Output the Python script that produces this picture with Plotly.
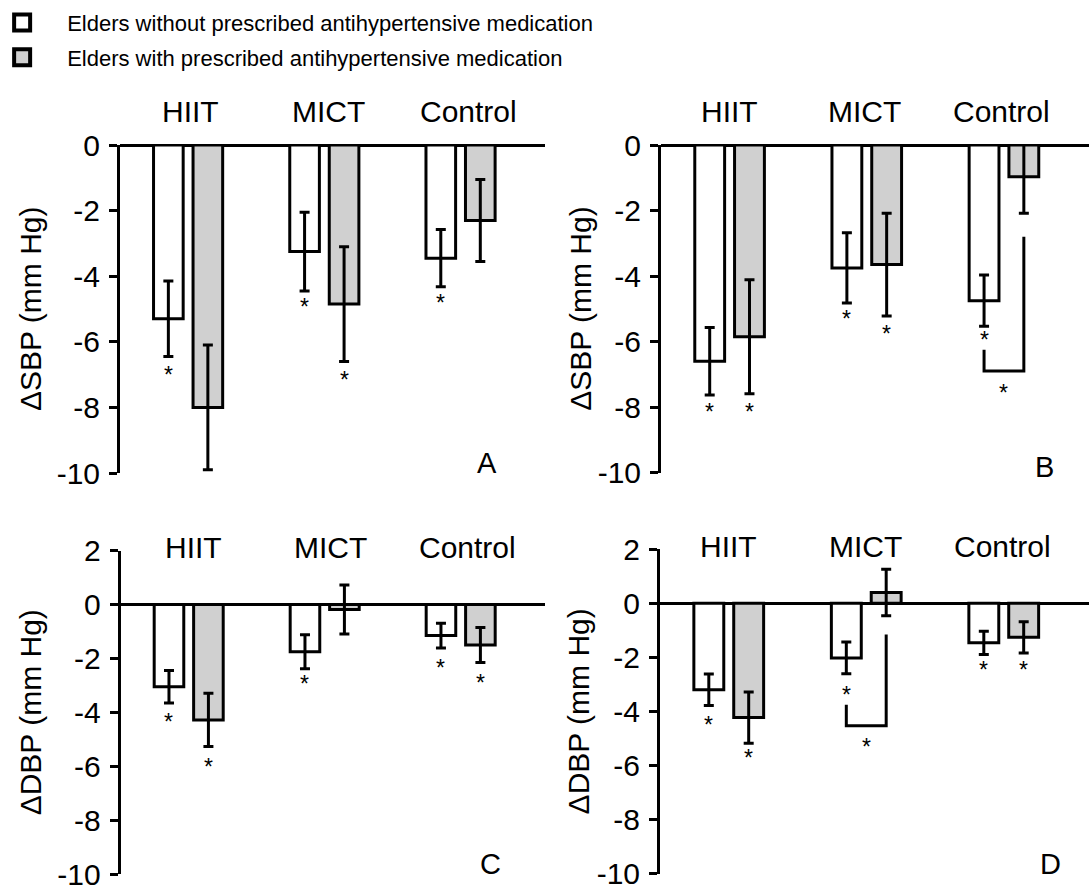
import plotly.graph_objects as go

# ---------------- data ----------------
categories = ["HIIT", "MICT", "Control"]
legend_names = ["Elders without prescribed antihypertensive medication",
                "Elders with prescribed antihypertensive medication"]

# y tick labels (hyphen-minus as in the original)
sbp_ticks = [0, -2, -4, -6, -8, -10]
sbp_ticktext = ["0", "-2", "-4", "-6", "-8", "-10"]
dbp_ticks = [2, 0, -2, -4, -6, -8, -10]
dbp_ticktext = ["2", "0", "-2", "-4", "-6", "-8", "-10"]

# Panel A: delta SBP
A_without = [-5.3, -3.25, -3.45]
A_without_err = [1.15, 1.2, 0.87]
A_with = [-8.0, -4.85, -2.3]
A_with_err = [1.9, 1.75, 1.25]
A_star_without = [-6.86, -4.78, -4.67]
A_star_with = [-10.3, -7.0, None]

# Panel B: delta SBP
B_without = [-6.6, -3.75, -4.75]
B_without_err = [1.03, 1.07, 0.78]
B_with = [-5.85, -3.65, -0.97]
B_with_err = [1.74, 1.57, 1.11]
B_star_without = [-8.0, -5.15, -5.8]
B_star_with = [-8.0, -5.6, None]

# Panel C: delta DBP
C_without = [-3.05, -1.75, -1.15]
C_without_err = [0.6, 0.63, 0.46]
C_with = [-4.28, -0.18, -1.5]
C_with_err = [0.99, 0.91, 0.65]
C_star_without = [-4.19, -2.77, -2.16]
C_star_with = [-5.84, None, -2.73]

# Panel D: delta DBP
D_without = [-3.2, -2.02, -1.46]
D_without_err = [0.58, 0.59, 0.43]
D_with = [-4.23, 0.4, -1.26]
D_with_err = [0.95, 0.86, 0.58]
D_star_without = [-4.33, -3.21, -2.29]
D_star_with = [-5.54, None, -2.29]

# significance brackets: (category, white-leg top, bracket level, gray-leg top, star y)
B_bracket = ("Control", -6.25, -6.9, -2.8, -7.42)
D_bracket = ("MICT", -3.75, -4.53, -1.15, -5.15)

panel_letters = ["A", "B", "C", "D"]
y_titles = ["ΔSBP (mm Hg)", "ΔSBP (mm Hg)", "ΔDBP (mm Hg)", "ΔDBP (mm Hg)"]

# ---------------- style ----------------
FONT = "Liberation Sans, Arial, sans-serif"
GRAY = "#d0d0d0"
BARGAP = 0.42
BARGROUPGAP = 0.25
OFFSET = (1 - BARGAP) / 4  # centre offset of each bar in a group
STAR_SIZE = 23

idx = list(range(len(categories)))

panels = [
    dict(w=A_without, we=A_without_err, g=A_with, ge=A_with_err,
         sw=A_star_without, sg=A_star_with, yr=[-10, 0], bracket=None,
         tv=sbp_ticks, tt=sbp_ticktext,
         xd=[120 / 1089, 545 / 1089], yd=[419 / 892, 747 / 892],
         lab_shift=33, lab_dx=[2, 4, 8], ytx=30, letter=(487, 463)),
    dict(w=B_without, we=B_without_err, g=B_with, ge=B_with_err,
         sw=B_star_without, sg=B_star_with, yr=[-10, 0], bracket=B_bracket,
         tv=sbp_ticks, tt=sbp_ticktext,
         xd=[661 / 1089, 1.0], yd=[419.3 / 892, 747 / 892],
         lab_shift=33, lab_dx=[0, -2, -2], ytx=581, letter=(1044, 467)),
    dict(w=C_without, we=C_without_err, g=C_with, ge=C_with_err,
         sw=C_star_without, sg=C_star_with, yr=[-10, 2], bracket=None,
         tv=dbp_ticks, tt=dbp_ticktext,
         xd=[120.7 / 1089, 545 / 1089], yd=[18 / 892, 341.3 / 892],
         lab_shift=3, lab_dx=[5, 6, 7], ytx=30, letter=(490, 864)),
    dict(w=D_without, we=D_without_err, g=D_with, ge=D_with_err,
         sw=D_star_without, sg=D_star_with, yr=[-10, 2], bracket=D_bracket,
         tv=dbp_ticks, tt=dbp_ticktext,
         xd=[660 / 1089, 1.0], yd=[18.5 / 892, 342.7 / 892],
         lab_shift=3, lab_dx=[0, -1, -1], ytx=578, letter=(1050, 864)),
]

fig = go.Figure()
annotations = []
shapes = []
layout_axes = {}

for n, p in enumerate(panels, start=1):
    xa = "x" if n == 1 else f"x{n}"
    ya = "y" if n == 1 else f"y{n}"
    err_style = dict(type="data", thickness=3, width=5, color="black", visible=True)
    fig.add_trace(go.Bar(
        x=idx, y=p["w"], xaxis=xa, yaxis=ya, offsetgroup="0",
        marker=dict(color="white", line=dict(color="black", width=3)),
        error_y=dict(array=p["we"], **err_style), showlegend=False))
    fig.add_trace(go.Bar(
        x=idx, y=p["g"], xaxis=xa, yaxis=ya, offsetgroup="1",
        marker=dict(color=GRAY, line=dict(color="black", width=3)),
        error_y=dict(array=p["ge"], **err_style), showlegend=False))

    # asterisks
    for i, c in enumerate(categories):
        for sy, off in ((p["sw"][i], -OFFSET), (p["sg"][i], OFFSET)):
            if sy is not None:
                annotations.append(dict(
                    x=i + off, y=sy, xref=xa, yref=ya, text="*", showarrow=False,
                    font=dict(family=FONT, size=STAR_SIZE, color="black"),
                    xanchor="center", yanchor="middle", yshift=-5))
        # category labels
        annotations.append(dict(
            x=i, y=1, xref=xa, yref=f"{ya} domain", text=c, showarrow=False,
            font=dict(family=FONT, size=30, color="black"),
            xanchor="center", yanchor="middle", yshift=p["lab_shift"],
            xshift=p["lab_dx"][i]))

    # bracket
    if p["bracket"] is not None:
        cat, wtop, lvl, gtop, sy = p["bracket"]
        ci = categories.index(cat)
        x0, x1 = ci - OFFSET, ci + OFFSET
        shapes.append(dict(
            type="path", xref=xa, yref=ya,
            path=f"M {x0},{wtop} L {x0},{lvl} L {x1},{lvl} L {x1},{gtop}",
            line=dict(color="black", width=3)))
        annotations.append(dict(
            x=ci, y=sy, xref=xa, yref=ya, text="*", showarrow=False,
            font=dict(family=FONT, size=STAR_SIZE, color="black"),
            xanchor="center", yanchor="middle", yshift=-5))

    # y title
    annotations.append(dict(
        x=p["ytx"] / 1089, y=0.5, xref="paper", yref=f"{ya} domain",
        text=y_titles[n - 1], textangle=-90, showarrow=False,
        font=dict(family=FONT, size=30, color="black"),
        xanchor="center", yanchor="middle"))
    # panel letter
    annotations.append(dict(
        x=p["letter"][0] / 1089, y=1 - p["letter"][1] / 892, xref="paper", yref="paper",
        text=panel_letters[n - 1], showarrow=False,
        font=dict(family=FONT, size=29, color="black"),
        xanchor="center", yanchor="middle"))

    xkey = "xaxis" if n == 1 else f"xaxis{n}"
    ykey = "yaxis" if n == 1 else f"yaxis{n}"
    layout_axes[xkey] = dict(
        domain=p["xd"], anchor=ya, range=[-0.5, 2.62], showgrid=False,
        zeroline=False, showline=False, showticklabels=False, ticks="",
        fixedrange=True)
    layout_axes[ykey] = dict(
        domain=p["yd"], anchor=xa, range=p["yr"],
        tickmode="array", tickvals=p["tv"], ticktext=p["tt"],
        showgrid=False, zeroline=True, zerolinecolor="black", zerolinewidth=3,
        showline=True, linecolor="black", linewidth=3,
        ticks="outside", ticklen=8, tickwidth=3, tickcolor="black",
        tickfont=dict(family=FONT, size=30, color="black"),
        ticklabelstandoff=3, ticklabeloverflow="allow", fixedrange=True)

# legend entries
fig.add_trace(go.Scatter(
    x=[None], y=[None], mode="markers", name=legend_names[0], legendgroup="a",
    marker=dict(symbol="square", size=16, color="white", line=dict(color="black", width=4))))
fig.add_trace(go.Scatter(
    x=[None], y=[None], mode="markers", name=legend_names[1], legendgroup="b",
    marker=dict(symbol="square", size=16, color=GRAY, line=dict(color="black", width=4))))

fig.update_layout(
    width=1089, height=892, autosize=False,
    margin=dict(l=0, r=0, t=0, b=0, pad=0, autoexpand=False),
    paper_bgcolor="white", plot_bgcolor="white",
    barmode="group", bargap=BARGAP, bargroupgap=BARGROUPGAP,
    font=dict(family=FONT, color="black"),
    showlegend=True,
    legend=dict(x=-0.021, y=0.998, xanchor="left", yanchor="top",
                font=dict(family=FONT, size=22, color="black"),
                itemwidth=80, tracegroupgap=3, bgcolor="rgba(0,0,0,0)",
                itemsizing="trace"),
    annotations=annotations, shapes=shapes,
    **layout_axes,
)

fig.write_html("out.html")
